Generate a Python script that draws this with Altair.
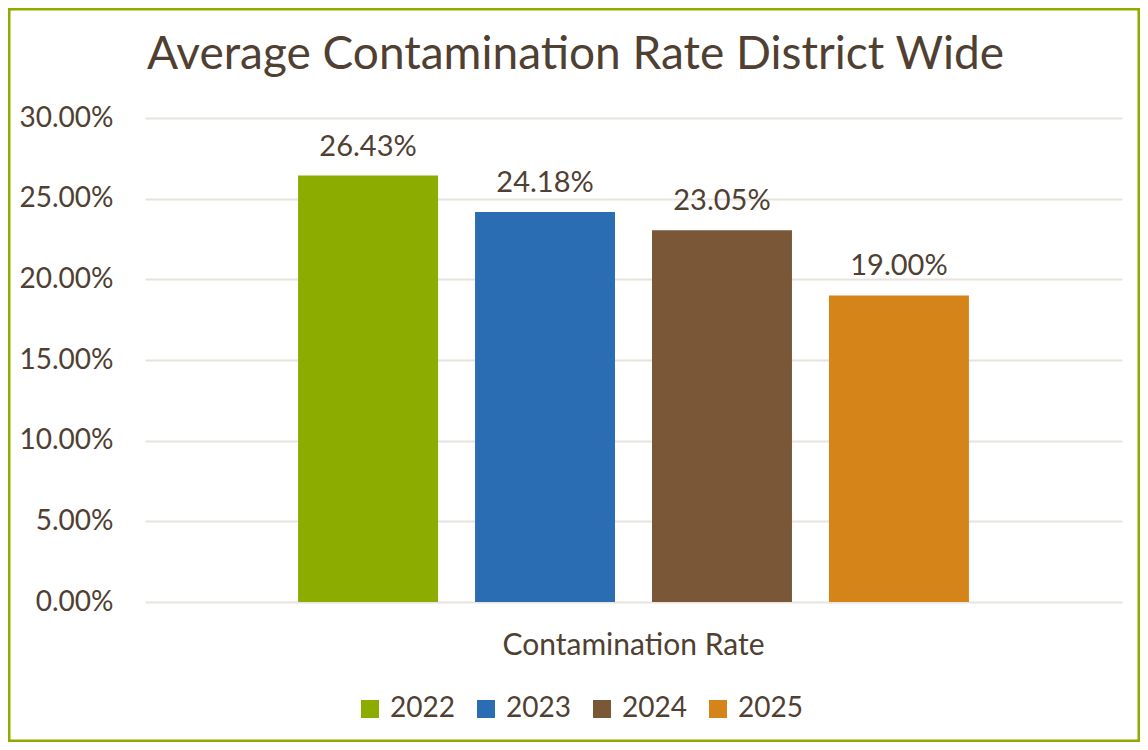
import altair as alt
import pandas as pd

category = ["Contamination Rate"] * 4
years = ["2022", "2023", "2024", "2025"]
rates = [0.2643, 0.2418, 0.2305, 0.1900]
colors = ["#8CAC00", "#2A6DB3", "#7A5737", "#D48418"]

df = pd.DataFrame({"category": category, "year": years, "rate": rates})

FONT = "Lato"
TXT = "#4F4032"
W, H = 977, 484
PL, PT, PR, PB = 137, 110, 18, 140

base = alt.Chart(df)

x_enc = alt.X("category:N", title=None,
              scale=alt.Scale(paddingInner=0, paddingOuter=0),
              axis=alt.Axis(labelFont=FONT, labelFontSize=30, labelColor=TXT,
                            labelPadding=28, ticks=False, domain=False, grid=False,
                            labelAngle=0, labelLimit=0))
xo_enc = alt.XOffset("year:N", scale=alt.Scale(paddingInner=0.209, paddingOuter=0.865))
y_enc = alt.Y("rate:Q", title=None,
              scale=alt.Scale(domain=[0, 0.3], nice=False),
              axis=alt.Axis(format=".2%", values=[0, 0.05, 0.1, 0.15, 0.2, 0.25, 0.3],
                            labelFont=FONT, labelFontSize=28, labelColor=TXT,
                            labelPadding=32, ticks=False, domain=False,
                            grid=True, gridColor="#E8E3DC", gridWidth=2))

bars = base.mark_bar().encode(
    x=x_enc, xOffset=xo_enc, y=y_enc,
    color=alt.Color("year:N", scale=alt.Scale(domain=years, range=colors),
                    legend=alt.Legend(title=None, orient="none", direction="horizontal",
                                      legendX=211, legendY=577,
                                      symbolType="square", symbolSize=324,
                                      symbolStrokeWidth=0, labelFont=FONT,
                                      labelFontSize=28, labelColor=TXT,
                                      labelOffset=6, columnPadding=17)),
)

labels = base.mark_text(font=FONT, fontSize=29, color=TXT, baseline="alphabetic",
                        dy=-20).encode(
    x=alt.X("category:N"), xOffset=alt.XOffset("year:N"), y=alt.Y("rate:Q"),
    text=alt.Text("rate:Q", format=".2%"),
)

border = alt.Chart(alt.Data(values=[{}])).mark_rect(
    fill=None, stroke="#8CAC00", strokeWidth=2.5
).encode(
    x=alt.value(-PL + 1.25), x2=alt.value(W + PR - 1.25),
    y=alt.value(-PT + 1.25), y2=alt.value(H + PB - 1.25),
)

chart = alt.layer(border, bars, labels).properties(
    width=W, height=H,
    autosize=alt.AutoSizeParams(type="none"),
    padding={"left": PL, "top": PT, "right": PR, "bottom": PB},
    title=alt.TitleParams("Average Contamination Rate District Wide",
                          font=FONT, fontSize=46, fontWeight="normal", color=TXT,
                          anchor="middle", baseline="alphabetic", offset=-107, dx=-58,
                          frame="group"),
).configure(background="white").configure_view(stroke=None)

chart.save("out.html", embed_options={"renderer": "svg", "actions": False})
